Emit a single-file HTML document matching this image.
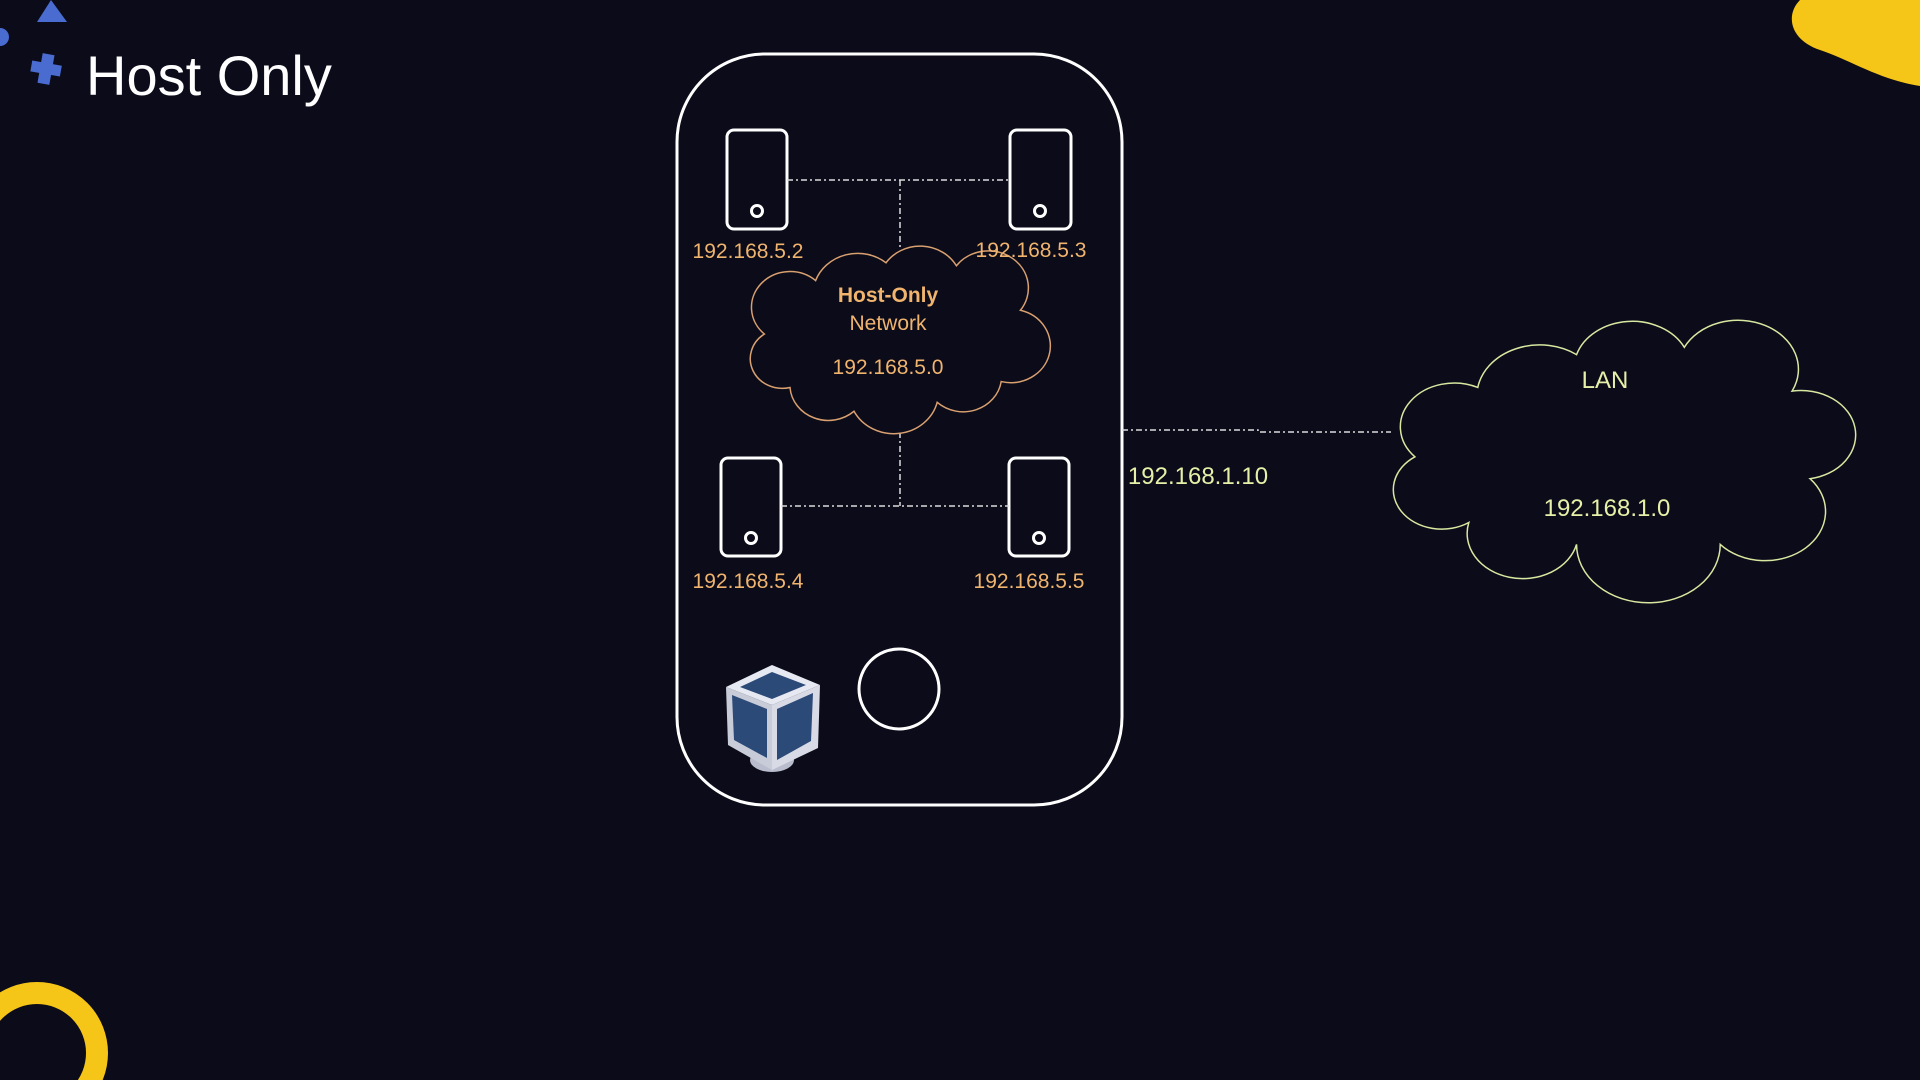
<!DOCTYPE html>
<html><head><meta charset="utf-8"><style>
html,body{margin:0;padding:0;background:#0b0b19;width:1920px;height:1080px;overflow:hidden}
svg{display:block}
text{font-family:"Liberation Sans",sans-serif}
</style></head><body>
<svg width="1920" height="1080" viewBox="0 0 1920 1080">
<rect width="1920" height="1080" fill="#0b0b19"/>
<!-- decorations -->
<polygon points="37,22 51,0 67,22" fill="#4a6cd0"/>
<circle cx="0" cy="37" r="9" fill="#4a6cd0"/>
<rect x="40" y="54" width="12" height="30" fill="#4a6cd0" transform="rotate(10 46 69)"/>
<rect x="31" y="63" width="30" height="11" fill="#4a6cd0" transform="rotate(10 46 69)"/>
<text x="86" y="95" font-size="56" fill="#ffffff">Host Only</text>
<path d="M1800 0 L1920 0 L1920 86 C1880 80 1850 60 1820 50 C1790 40 1785 15 1800 0 Z" fill="#f5c518"/>
<circle cx="37" cy="1053" r="60" fill="none" stroke="#f5c518" stroke-width="22"/>
<!-- main frame -->
<rect x="677" y="54" width="445" height="751" rx="88" fill="none" stroke="#fff" stroke-width="3"/>
<!-- phones -->
<g fill="none" stroke="#fff" stroke-width="3">
<rect x="727" y="130" width="60" height="99" rx="7"/><circle cx="757" cy="211" r="5.5"/>
<rect x="1010" y="130" width="61" height="99" rx="7"/><circle cx="1040" cy="211" r="5.5"/>
<rect x="721" y="458" width="60" height="98" rx="7"/><circle cx="751" cy="538" r="5.5"/>
<rect x="1009" y="458" width="60" height="98" rx="7"/><circle cx="1039" cy="538" r="5.5"/>
<circle cx="899" cy="689" r="40"/>
</g>
<!-- dashed connectors -->
<g stroke="#dddddd" stroke-width="1.5" stroke-dasharray="6,3,2,3" fill="none">
<line x1="787" y1="180" x2="1010" y2="180"/>
<line x1="900" y1="180" x2="900" y2="248"/>
<line x1="900" y1="432" x2="900" y2="506"/>
<line x1="781" y1="506" x2="1009" y2="506"/>
<polyline points="1122,430 1258,430 1258,432 1391,432"/>
</g>
<!-- host-only cloud -->
<g transform="translate(726,239) scale(3.2,2.97)">
<path d="M20 50 A10 10 0 0 1 12 32 A12 12 0 0 1 28 14 A14 14 0 0 1 50 8 A13 13 0 0 1 72 9 A12 12 0 0 1 92 24 A11 11 0 0 1 86 48 A12 12 0 0 1 66 55 A14 14 0 0 1 40 58 A12 12 0 0 1 20 50 Z" fill="#0b0b19" stroke="#d9a070" stroke-width="1.5" vector-effect="non-scaling-stroke"/>
</g>
<g fill="#f0b46e" font-size="21" text-anchor="middle">
<text x="888" y="302" font-weight="bold">Host-Only</text>
<text x="888" y="330">Network</text>
<text x="888" y="374">192.168.5.0</text>
<text x="748" y="258">192.168.5.2</text>
<text x="1031" y="257">192.168.5.3</text>
<text x="748" y="588">192.168.5.4</text>
<text x="1029" y="588">192.168.5.5</text>
</g>
<!-- LAN cloud -->
<g transform="translate(1379,340) scale(4.49,3.65)">
<path d="M20 50 A10 10 0 0 1 8 32 A12 12 0 0 1 22 13 A14 14 0 0 1 44 4 A13 13 0 0 1 68 2 A12 12 0 0 1 92 14 A11 11 0 0 1 96 38 A12 12 0 0 1 76 56 A14 14 0 0 1 44 56 A12 12 0 0 1 20 50 Z" fill="none" stroke="#d8e8a0" stroke-width="1.5" vector-effect="non-scaling-stroke"/>
</g>
<g fill="#e6f0a8" text-anchor="middle" font-size="24">
<text x="1605" y="388">LAN</text>
<text x="1607" y="516">192.168.1.0</text>
<text x="1198" y="484">192.168.1.10</text>
</g>
<!-- virtualbox cube -->
<g>
<ellipse cx="772" cy="760" rx="22" ry="12" fill="#b8bccc"/>
<polygon points="772,665 820,685 772,705 726,687" fill="#e6e9f2"/>
<polygon points="726,687 772,705 772,770 728,745" fill="#c8ccd8"/>
<polygon points="772,705 820,685 818,748 772,770" fill="#d8dbe6"/>
<polygon points="772,672 806,685 772,699 740,687" fill="#2c4a78"/>
<polygon points="732,695 767,709 767,758 734,740" fill="#2c4a78"/>
<polygon points="777,709 813,693 811,741 777,760" fill="#2c4a78"/>
</g>
</svg>
</body></html>
